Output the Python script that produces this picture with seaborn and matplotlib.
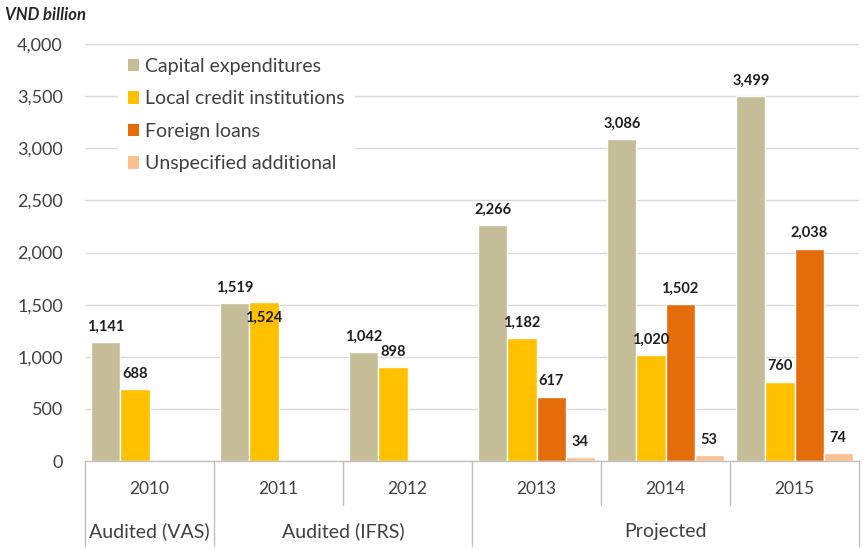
import pandas as pd
import seaborn as sns
import matplotlib.pyplot as plt
from matplotlib.patches import Patch
from matplotlib.ticker import FuncFormatter, MultipleLocator
from matplotlib.transforms import blended_transform_factory

# ---- data (VND billion) ----
years = ["2010", "2011", "2012", "2013", "2014", "2015"]
capex = [1141, 1519, 1042, 2266, 3086, 3499]
local_credit = [688, 1524, 898, 1182, 1020, 760]
foreign_loans = [None, None, None, 617, 1502, 2038]
unspecified = [None, None, None, 34, 53, 74]

series_names = ["Capital expenditures", "Local credit institutions",
                "Foreign loans", "Unspecified additional"]
series_colors = ["#C4BD97", "#FFC000", "#E46C0A", "#FAC090"]

stage_labels = ["Audited (VAS)", "Audited (IFRS)", "Projected"]
stage_spans = [(0, 0), (1, 2), (3, 5)]

rows = []
for name, vals in zip(series_names, [capex, local_credit, foreign_loans, unspecified]):
    for yr, v in zip(years, vals):
        if v is not None:
            rows.append({"Year": yr, "Series": name, "Value": v})
df = pd.DataFrame(rows)

# ---- style ----
sns.set_theme(style="white")
plt.rcParams["font.family"] = ["Lato", "DejaVu Sans"]
TXT = "#404040"
GRID = "#D9D9D9"
LINE = "#BFBFBF"

W, H = 866, 550
fig = plt.figure(figsize=(W / 100, H / 100), dpi=100)
ax = fig.add_axes([85 / W, 89 / H, 774 / W, 417 / H])

sns.barplot(data=df, x="Year", y="Value", hue="Series", order=years,
            hue_order=series_names, palette=series_colors, saturation=1,
            width=0.9, errorbar=None, legend=False, ax=ax)

ax.set_xlim(-0.5, len(years) - 0.5)
ax.set_ylim(0, 4000)
ax.yaxis.set_major_locator(MultipleLocator(500))
ax.yaxis.set_major_formatter(FuncFormatter(lambda v, _: f"{v:,.0f}"))
ax.grid(axis="y", color=GRID, linewidth=1)
ax.set_axisbelow(True)
ax.set_xlabel("")
ax.set_ylabel("")
for s in ["top", "right", "left"]:
    ax.spines[s].set_visible(False)
ax.spines["bottom"].set_color(LINE)
ax.spines["bottom"].set_linewidth(1)

ax.tick_params(axis="y", length=0, pad=16, labelsize=13, labelcolor=TXT)
ax.tick_params(axis="x", length=0, pad=20, labelsize=12.5, labelcolor=TXT)
ax.set_xticks(range(len(years)))
ax.set_xticklabels(years)
for lab in ax.get_xticklabels():
    lab.set_va("center")

# ---- value labels ----
inside_labels = {("Local credit institutions", "2011")}
for name, cont in zip(series_names, ax.containers):
    for bar in cont:
        h = bar.get_height()
        cx = bar.get_x() + bar.get_width() / 2
        yr = years[int(round(cx))]
        dy = -11 if (name, yr) in inside_labels else 11
        ax.annotate(f"{h:,.0f}", (cx, h), xytext=(0, dy), textcoords="offset points",
                    ha="center", va="center", fontsize=10.5, fontweight="bold",
                    color="#1F1F1F")

# ---- multi-level category axis ----
tr = blended_transform_factory(ax.transData, fig.transFigure)
y_axis = 89 / H
y_split = 45 / H
y_bottom = 4 / H
outer = [-0.5, 0.5, 2.5, 5.5]
inner = [1.5, 3.5, 4.5]
for xb in outer:
    ax.plot([xb, xb], [y_axis, y_bottom], transform=tr, color=LINE,
            linewidth=1, clip_on=False)
for xb in inner:
    ax.plot([xb, xb], [y_axis, y_split], transform=tr, color=LINE,
            linewidth=1, clip_on=False)
for lab, (a, b) in zip(stage_labels, stage_spans):
    fig.text((a + b) / 2, 19 / H, lab, transform=tr, ha="center", va="center",
             fontsize=14, color=TXT)

# ---- legend ----
handles = [Patch(facecolor=c, edgecolor="none", label=n)
           for n, c in zip(series_names, series_colors)]
leg = fig.legend(handles=handles, loc="upper left",
                 bbox_to_anchor=(118 / W, 1 - 48 / H), borderaxespad=0,
                 fontsize=14, frameon=True, fancybox=False,
                 handlelength=0.6, handleheight=0.6, handletextpad=0.3,
                 labelspacing=0.8, borderpad=0.5)
leg.get_frame().set_facecolor("white")
leg.get_frame().set_edgecolor("none")
leg.get_frame().set_alpha(1)
for t in leg.get_texts():
    t.set_color(TXT)

# ---- unit title ----
fig.text(5 / W, 1 - 15 / H, "VND billion", ha="left", va="center",
         fontsize=12, fontweight="bold", fontstyle="italic", color="#262626")

fig.savefig("out.png", dpi=100)
